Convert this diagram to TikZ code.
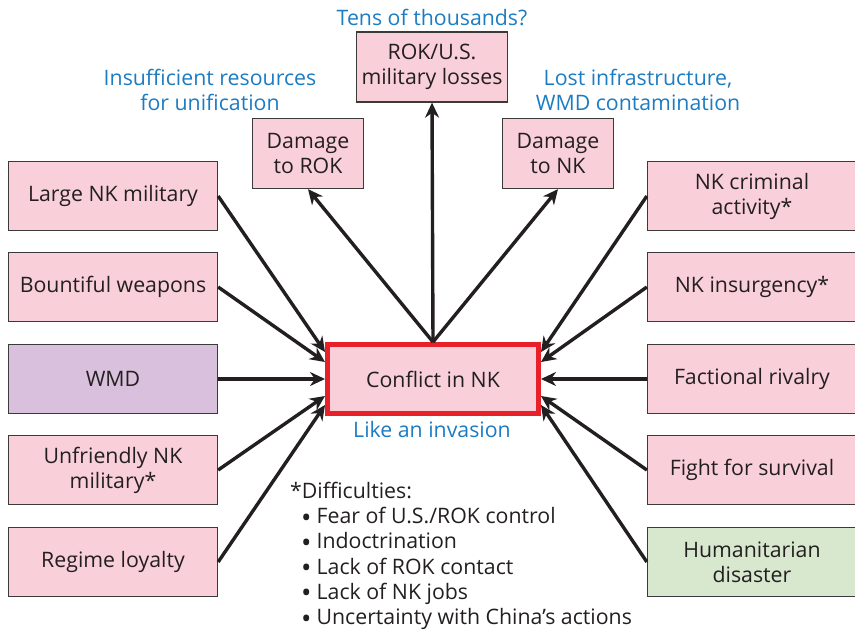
\documentclass[tikz,border=0pt]{standalone}
\usepackage{fontspec}
\setmainfont{Open Sans}
\usetikzlibrary{arrows.meta}

\definecolor{boxpink}{HTML}{F9D0DA}
\definecolor{boxpurple}{HTML}{D9C0DD}
\definecolor{boxgreen}{HTML}{D7E8CF}
\definecolor{noteblue}{HTML}{1C7CC2}
\definecolor{alertred}{HTML}{E8202A}
\definecolor{edgegrey}{HTML}{3A3A3A}
\definecolor{ink}{HTML}{231F20}

% a bullet a little larger than the font's own, sitting on the x-height middle
\newcommand{\dotitem}{\hspace*{11pt}\smash{\raisebox{-0.32ex}{\scalebox{1.3}{\textbullet}}}\hspace{5pt}}

\tikzset{
  factor/.style={draw=edgegrey, line width=1.3pt, fill=boxpink, text=ink,
    minimum width=209pt, minimum height=69pt, align=center, inner sep=2pt},
  impact/.style={factor, minimum width=111pt, minimum height=70pt},
  note/.style={text=noteblue, align=center, inner sep=0pt},
  link/.style={draw=ink, line width=3.4pt, -{Stealth[length=15pt,width=14pt]}},
}

\begin{document}
\begin{tikzpicture}[x=1pt, y=-1pt, font=\fontsize{21.3}{25}\selectfont]
  \useasboundingbox (0,0) rectangle (855,635);

  % central event
  \node[draw=alertred, line width=5pt, fill=boxpink, text=ink,
        minimum width=211pt, minimum height=69pt] (c) at (433,379) {Conflict in NK};
  \node[note] (inv) at (432,430) {Like an invasion};

  % consequences
  \node[impact, minimum width=151pt] (loss) at (432,67) {ROK/U.S.\\military losses};
  \node[impact] (drok) at (308,153.5) {Damage\\to ROK};
  \node[impact] (dnk) at (558,153.5) {Damage\\to NK};
  \node[note] (tens) at (432,17) {Tens of thousands?};
  \node[note] (insuf) at (210,89.5) {Insufficient resources\\for unification};
  \node[note] (lost) at (638,89.5) {Lost infrastructure,\\WMD contamination};

  % causes on the left
  \node[factor] (l1) at (113,196) {Large NK military};
  \node[factor] (l2) at (113,287) {Bountiful weapons};
  \node[factor, fill=boxpurple] (l3) at (113,379) {WMD};
  \node[factor] (l4) at (113,470) {Unfriendly NK\\military*};
  \node[factor] (l5) at (113,562) {Regime loyalty};

  % causes on the right
  \node[factor] (r1) at (752,196) {NK criminal\\activity*};
  \node[factor] (r2) at (752,287) {NK insurgency*};
  \node[factor] (r3) at (752,379) {Factional rivalry};
  \node[factor] (r4) at (752,470) {Fight for survival};
  \node[factor, fill=boxgreen] (r5) at (752,562) {Humanitarian\\disaster};

  % footnote
  \node[anchor=north west, align=left, inner sep=0pt, text=ink,
        font=\fontsize{21.3}{25.2}\selectfont] (diff) at (290,482)
    {*Difficulties:\\
     \dotitem Fear of U.S./ROK control\\
     \dotitem Indoctrination\\
     \dotitem Lack of ROK contact\\
     \dotitem Lack of NK jobs\\
     \dotitem Uncertainty with China’s actions};

  % arrows out of the conflict
  \draw[link] (c.north) -- (loss.south);
  \draw[link] (c.north) -- (drok.south);
  \draw[link] (c.north) -- (dnk.south);

  % arrows into the conflict
  \draw[link] (l1.east) -- ([yshift=27pt]c.west);
  \draw[link] (l2.east) -- ([yshift=17pt]c.west);
  \draw[link] (l3.east) -- (c.west);
  \draw[link] (l4.east) -- ([yshift=-17pt]c.west);
  \draw[link] (l5.east) -- ([yshift=-26pt]c.west);

  \draw[link] (r1.west) -- ([yshift=27pt]c.east);
  \draw[link] (r2.west) -- ([yshift=17pt]c.east);
  \draw[link] (r3.west) -- (c.east);
  \draw[link] (r4.west) -- ([yshift=-17pt]c.east);
  \draw[link] (r5.west) -- ([yshift=-26pt]c.east);
\end{tikzpicture}
\end{document}
